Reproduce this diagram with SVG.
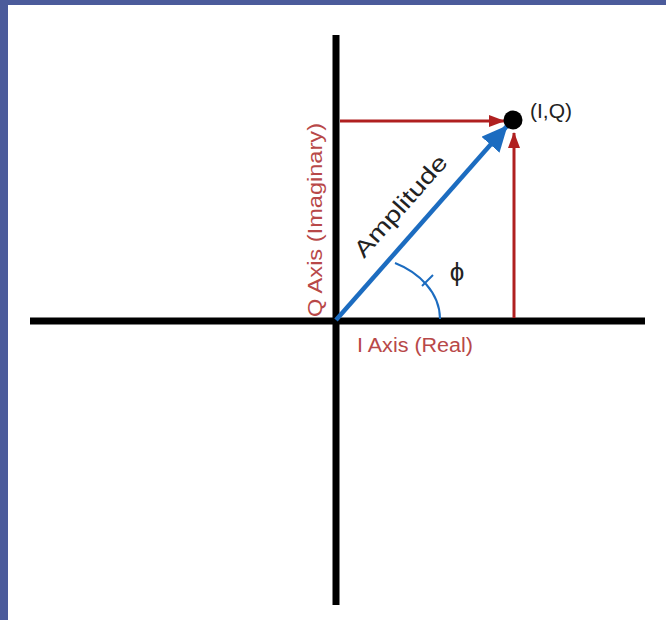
<svg xmlns="http://www.w3.org/2000/svg" width="666" height="620" viewBox="0 0 666 620">
<style>
.axis{stroke:#000;stroke-width:7;fill:none}
.red{stroke:#b02020;stroke-width:3;fill:none}
.lbl{font-family:"Liberation Sans",Arial,sans-serif;fill:#b84848}
.dark{font-family:"Liberation Sans",Arial,sans-serif;fill:#222}
</style>
<defs>
<marker id="ra" markerWidth="16" markerHeight="12" refX="15" refY="6" orient="auto" markerUnits="userSpaceOnUse">
<path d="M0,0 L16,6 L0,12 Z" fill="#b02020"/>
</marker>
<marker id="ba" markerWidth="26" markerHeight="24" refX="25" refY="12" orient="auto" markerUnits="userSpaceOnUse">
<path d="M0,0 L26,12 L0,24 Z" fill="#1c6cc0"/>
</marker>
</defs>
<rect x="0" y="0" width="666" height="620" fill="#fff"/>
<rect x="0" y="0" width="666" height="5" fill="#4b5b9b"/>
<rect x="0" y="0" width="8" height="620" fill="#4b5b9b"/>
<g id="axes">
<line class="axis" x1="30" y1="321" x2="645" y2="321"/>
<line class="axis" x1="336" y1="35" x2="336" y2="605"/>
</g>
<g id="connectors">
<line class="red" x1="340" y1="121" x2="504" y2="121" marker-end="url(#ra)"/>
<line class="red" x1="514" y1="318" x2="514" y2="133" marker-end="url(#ra)"/>
<line x1="336" y1="320" x2="507" y2="126" stroke="#1c6cc0" stroke-width="4.5" marker-end="url(#ba)"/>
<path d="M395,263 C418,272 440,292 440,319" fill="none" stroke="#1c6cc0" stroke-width="2"/>
<line x1="422" y1="286" x2="433" y2="275" stroke="#1c6cc0" stroke-width="2"/>
</g>
<g id="point">
<circle cx="513" cy="120" r="9.5" fill="#000"/>
<text class="dark" x="530" y="118" font-size="21">(I,Q)</text>
</g>
<g id="labels">
<text class="lbl" x="357" y="352" font-size="20" textLength="116" lengthAdjust="spacingAndGlyphs">I Axis (Real)</text>
<text class="lbl" transform="translate(322,317) rotate(-90)" font-size="20" textLength="194" lengthAdjust="spacingAndGlyphs">Q Axis (Imaginary)</text>
<text class="dark" transform="translate(364,259) rotate(-48.5)" font-size="23" textLength="128" lengthAdjust="spacingAndGlyphs">Amplitude</text>
<text class="dark" x="457" y="281" font-size="26" text-anchor="middle">ϕ</text>
</g>
</svg>
